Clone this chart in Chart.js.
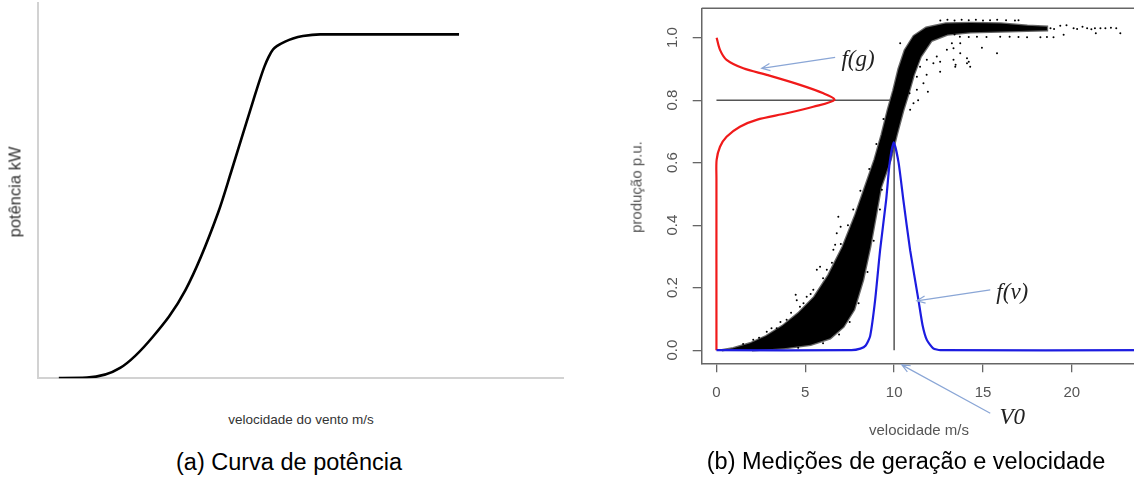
<!DOCTYPE html>
<html>
<head>
<meta charset="utf-8">
<script src="https://cdn.jsdelivr.net/npm/chart.js@4.4.0/dist/chart.umd.min.js"></script>
<style>
html, body { margin: 0; padding: 0; background: #fff; overflow: hidden; }
.wrap { position: relative; width: 1134px; height: 479px; overflow: hidden; font-family: "Liberation Sans", Arial, sans-serif; }
canvas { position: absolute; top: 0; }
#curvaChart { left: 0; }
#medicoesChart { left: 600px; }
.lbl { position: absolute; white-space: nowrap; transform: translate(-50%, -50%); }
.rot { transform: translate(-50%, -50%) rotate(-90deg); }
</style>
</head>
<body>
<div class="wrap">
  <canvas id="curvaChart" width="570" height="400"></canvas>
  <canvas id="medicoesChart" width="560" height="479"></canvas>

  <div class="lbl rot" style="left:15px;top:192px;font-size:16.5px;color:#333;">potência kW</div>
  <div class="lbl" style="left:301px;top:419px;font-size:13.5px;color:#333;">velocidade do vento m/s</div>
  <div class="lbl" style="left:289px;top:462px;font-size:23.5px;color:#000;">(a) Curva de potência</div>

  <div class="lbl rot" style="left:636px;top:187px;font-size:15px;color:#555;">produção p.u.</div>
  <div class="lbl" style="left:919px;top:429px;font-size:15px;color:#555;">velocidade m/s</div>
  <div class="lbl" style="left:906px;top:461px;font-size:23.5px;color:#000;">(b) Medições de geração e velocidade</div>
</div>

<script>
// (a) curva de potência - eixo sem escala
var CURVA_VELOCIDADE = [1.04, 2.43, 4.07, 5.68, 7.30, 8.91, 9.59, 10.66, 10.99, 11.21, 11.41, 11.63, 11.88, 12.23, 12.62, 13.11, 13.96, 20.83];
var CURVA_POTENCIA   = [0.001, 0.002, 0.030, 0.120, 0.256, 0.480, 0.605, 0.808, 0.869, 0.906, 0.933, 0.955, 0.967, 0.978, 0.987, 0.994, 0.999, 0.999];

// (b) medições
var X_TICKS = [0, 5, 10, 15, 20];
var Y_TICKS = [0, 0.2, 0.4, 0.6, 0.8, 1.0];

// f(g): densidade da produção (desenhada na horizontal)
var FG_DENS = [0, 0, 0.01, 0.20, 0.57, 1.32, 2.26, 3.95, 5.45, 6.64, 6.02, 4.70, 2.83, 1.51, 0.57, 0.20, 0.01];
var FG_PROD = [0, 0.55, 0.609, 0.651, 0.683, 0.715, 0.737, 0.758, 0.779, 0.801, 0.822, 0.849, 0.881, 0.902, 0.929, 0.961, 1.0];

// f(v): densidade da velocidade
var FV_VEL  = [0, 7.6, 8.1, 8.4, 8.65, 8.93, 9.21, 9.55, 9.75, 9.98, 10.25, 10.52, 10.9, 11.37, 11.6, 11.84, 12.2, 12.6, 24.4];
var FV_DENS = [0, 0, 0.005, 0.015, 0.045, 0.16, 0.32, 0.48, 0.60, 0.665, 0.60, 0.48, 0.32, 0.16, 0.08, 0.033, 0.006, 0, 0];

// nuvem densa de medições (contorno)
var NUVEM = [
  [0.3, 0.0], [0.95, 0.006], [1.9, 0.022], [2.8, 0.045], [3.7, 0.077], [4.6, 0.118], [5.5, 0.17],
  [6.3, 0.24], [7.1, 0.33], [7.8, 0.43], [8.35, 0.52], [8.9, 0.61], [9.3, 0.69], [9.65, 0.77],
  [9.95, 0.83], [10.25, 0.90], [10.6, 0.96], [11.1, 1.005], [11.8, 1.032], [12.9, 1.045],
  [14.3, 1.047], [16.0, 1.045], [17.5, 1.038], [18.6, 1.035],
  [18.6, 1.024], [17.5, 1.022], [16.0, 1.02], [14.3, 1.017], [13.0, 1.01], [12.1, 0.99],
  [11.5, 0.94], [11.1, 0.88], [10.8, 0.82], [10.5, 0.765], [10.15, 0.69], [9.8, 0.61],
  [9.25, 0.52], [9.0, 0.44], [8.65, 0.33], [8.25, 0.225], [7.75, 0.13], [7.15, 0.075],
  [6.4, 0.038], [5.3, 0.017], [3.8, 0.006], [2.0, 0.0]
];

// medições isoladas
var PONTOS = [
  [1.5, 0.02], [2.07, 0.033], [2.4, 0.04], [2.83, 0.059], [3.1, 0.07], [3.39, 0.07], [3.6, 0.09],
  [3.95, 0.097], [4.2, 0.12], [4.46, 0.177], [4.52, 0.16], [4.70, 0.139], [4.9, 0.15], [5.08, 0.171],
  [5.3, 0.18], [5.45, 0.193], [5.65, 0.257], [5.83, 0.267], [6.0, 0.23], [6.21, 0.257], [6.5, 0.28],
  [6.58, 0.321], [6.68, 0.337], [6.77, 0.374], [6.86, 0.427], [6.99, 0.395], [7.0, 0.34], [7.4, 0.40],
  [7.7, 0.45], [8.1, 0.51], [8.6, 0.58], [9.0, 0.66], [9.4, 0.74],
  [4.6, 0.008], [6.0, 0.022], [6.9, 0.05], [7.5, 0.09], [8.0, 0.15], [8.5, 0.25], [8.85, 0.35],
  [9.2, 0.45], [9.31, 0.513],
  [10.34, 0.982], [10.87, 0.822], [10.90, 0.769], [11.09, 0.790], [11.28, 0.833], [11.28, 0.875],
  [11.35, 0.80], [11.46, 0.907], [11.46, 0.950], [11.65, 0.854], [11.83, 0.881], [11.84, 0.929],
  [11.9, 0.827], [12.21, 0.918], [12.40, 0.94], [12.59, 0.891], [12.59, 0.923], [12.97, 0.961],
  [13.25, 0.982], [13.34, 0.929], [13.34, 0.966], [13.44, 0.907], [13.46, 0.913], [13.72, 0.950],
  [13.72, 0.982], [14.10, 0.918], [14.10, 0.934], [14.2, 0.923], [14.28, 0.907], [14.94, 0.968],
  [15.79, 0.950],
  [12.6, 1.055], [13.0, 1.057], [13.4, 1.055], [13.8, 1.057], [14.2, 1.056], [14.6, 1.057],
  [15.0, 1.055], [15.4, 1.056], [15.8, 1.057], [16.3, 1.056], [16.8, 1.055], [17.0, 1.056],
  [12.9, 1.012], [13.4, 1.01], [13.7, 1.003], [14.2, 1.002], [14.66, 1.003], [15.2, 1.002],
  [15.97, 1.003], [16.5, 1.003], [17.0, 1.002], [17.48, 1.001], [18.23, 1.001], [18.6, 1.002],
  [18.97, 1.001], [18.8, 1.03], [19.0, 1.028], [19.35, 1.038], [19.54, 1.009], [19.7, 1.04],
  [20.1, 1.03], [20.3, 1.028], [20.6, 1.035], [20.86, 1.03], [21.1, 1.027], [21.3, 1.03],
  [21.35, 1.014], [21.61, 1.03], [21.89, 1.03], [22.2, 1.032], [22.5, 1.03], [22.73, 1.014]
];

var V0 = 10, V0_TOPO = 0.662;
var G0 = 0.8, G0_FIM = 9.77;

// setas e textos das anotações (em unidades dos eixos)
var ANOTACOES = [
  { texto: 'f(g)', tx: 7.97, ty: 0.929, de: [6.68, 0.937], para: [2.55, 0.902] },
  { texto: 'f(v)', tx: 16.65, ty: 0.183, de: [15.41, 0.193], para: [11.28, 0.158] },
  { texto: 'V0',   tx: 16.65, ty: -0.217, de: [15.41, -0.202], para: [10.43, -0.047] }
];

function pares(xs, ys) {
    return xs.map(function(x, i) { return { x: x, y: ys[i] }; });
}
function lista(ps) {
    return ps.map(function(p) { return { x: p[0], y: p[1] }; });
}

document.addEventListener('DOMContentLoaded', function() {
    Chart.defaults.font.family = '"Liberation Sans", Arial, sans-serif';

    var ctxCurva = document.getElementById('curvaChart').getContext('2d');
    var curvaChart = new Chart(ctxCurva, {
        type: 'scatter',
        data: {
            datasets: [{
                data: pares(CURVA_VELOCIDADE, CURVA_POTENCIA),
                showLine: true,
                borderColor: '#000',
                borderWidth: 2.6,
                pointRadius: 0,
                cubicInterpolationMode: 'monotone'
            }]
        },
        options: {
            responsive: false,
            animation: false,
            events: [],
            layout: { padding: { left: 37.8, top: 3, right: 6.4, bottom: 21.7 } },
            plugins: { legend: { display: false }, tooltip: { enabled: false } },
            scales: {
                x: {
                    type: 'linear', min: 0, max: 26,
                    ticks: { display: false },
                    grid: { display: false, drawTicks: false },
                    border: { display: true, color: '#d2d2d2', width: 2 }
                },
                y: {
                    type: 'linear', min: 0, max: 1.09,
                    ticks: { display: false },
                    grid: { display: false, drawTicks: false },
                    border: { display: true, color: '#d2d2d2', width: 2 }
                }
            }
        }
    });

    var anotar = {
        id: 'anotar',
        afterDatasetsDraw: function(chart) {
            var ctx = chart.ctx, area = chart.chartArea;
            var x = chart.scales.x, y = chart.scales.y;
            ctx.save();
            // topo da caixa
            ctx.strokeStyle = '#666';
            ctx.lineWidth = 1.5;
            ctx.beginPath();
            ctx.moveTo(area.left, area.top);
            ctx.lineTo(area.right, area.top);
            ctx.stroke();

            // rótulos do eixo y na vertical
            ctx.fillStyle = '#555';
            ctx.font = '15px "Liberation Sans", Arial, sans-serif';
            ctx.textAlign = 'center';
            ctx.textBaseline = 'middle';
            Y_TICKS.forEach(function(v) {
                ctx.save();
                ctx.translate(area.left - 29, y.getPixelForValue(v));
                ctx.rotate(-Math.PI / 2);
                ctx.fillText(v.toFixed(1), 0, 0);
                ctx.restore();
            });

            // setas
            ANOTACOES.forEach(function(a) {
                var x1 = x.getPixelForValue(a.de[0]), y1 = y.getPixelForValue(a.de[1]);
                var x2 = x.getPixelForValue(a.para[0]), y2 = y.getPixelForValue(a.para[1]);
                var ang = Math.atan2(y2 - y1, x2 - x1);
                ctx.strokeStyle = '#8aa6d6';
                ctx.lineWidth = 1.2;
                ctx.beginPath();
                ctx.moveTo(x1, y1);
                ctx.lineTo(x2, y2);
                ctx.moveTo(x2 - 9 * Math.cos(ang - 0.4), y2 - 9 * Math.sin(ang - 0.4));
                ctx.lineTo(x2, y2);
                ctx.lineTo(x2 - 9 * Math.cos(ang + 0.4), y2 - 9 * Math.sin(ang + 0.4));
                ctx.stroke();

                ctx.fillStyle = '#222';
                ctx.font = 'italic 23px "Liberation Serif", "Times New Roman", serif';
                ctx.fillText(a.texto, x.getPixelForValue(a.tx), y.getPixelForValue(a.ty));
            });
            ctx.restore();
        }
    };

    var ctxMedicoes = document.getElementById('medicoesChart').getContext('2d');
    var medicoesChart = new Chart(ctxMedicoes, {
        type: 'scatter',
        data: {
            datasets: [
                {   // f(v)
                    data: pares(FV_VEL, FV_DENS),
                    showLine: true, borderColor: '#1c1ce0', borderWidth: 2.2,
                    pointRadius: 0, tension: 0.2
                },
                {   // f(g)
                    data: pares(FG_DENS, FG_PROD),
                    showLine: true, borderColor: '#f01a1a', borderWidth: 2.2,
                    pointRadius: 0, tension: 0.3
                },
                {   // V0
                    data: [{ x: V0, y: 0 }, { x: V0, y: V0_TOPO }],
                    showLine: true, borderColor: '#555', borderWidth: 1.5, pointRadius: 0
                },
                {   // g0
                    data: [{ x: 0, y: G0 }, { x: G0_FIM, y: G0 }],
                    showLine: true, borderColor: '#555', borderWidth: 1.5, pointRadius: 0
                },
                {   // pontos isolados
                    data: lista(PONTOS),
                    pointRadius: 1, pointBorderWidth: 0, pointBackgroundColor: '#000'
                },
                {   // nuvem densa
                    data: lista(NUVEM),
                    showLine: true, fill: 'shape', backgroundColor: '#000',
                    borderColor: 'rgba(0,0,0,0.6)', borderWidth: 2.5, pointRadius: 0, tension: 0
                }
            ]
        },
        options: {
            responsive: false,
            animation: false,
            events: [],
            layout: { padding: { left: 92.7, top: 8.3, right: 10, bottom: 64.7 } },
            plugins: { legend: { display: false }, tooltip: { enabled: false } },
            scales: {
                x: {
                    type: 'linear', min: -0.83, max: 24.4,
                    afterBuildTicks: function(s) { s.ticks = X_TICKS.map(function(v) { return { value: v }; }); },
                    ticks: { color: '#555', font: { size: 15 }, padding: 12, maxRotation: 0, autoSkip: false },
                    grid: { drawOnChartArea: false, drawTicks: true, tickLength: 9, color: '#666', lineWidth: 1.3 },
                    border: { display: true, color: '#666', width: 1.5 }
                },
                y: {
                    type: 'linear', min: -0.042, max: 1.094,
                    afterBuildTicks: function(s) { s.ticks = Y_TICKS.map(function(v) { return { value: v }; }); },
                    ticks: { display: false },
                    grid: { drawOnChartArea: false, drawTicks: true, tickLength: 9, color: '#666', lineWidth: 1.3 },
                    border: { display: true, color: '#666', width: 1.5 }
                }
            }
        },
        plugins: [anotar]
    });
});
</script>
</body>
</html>
